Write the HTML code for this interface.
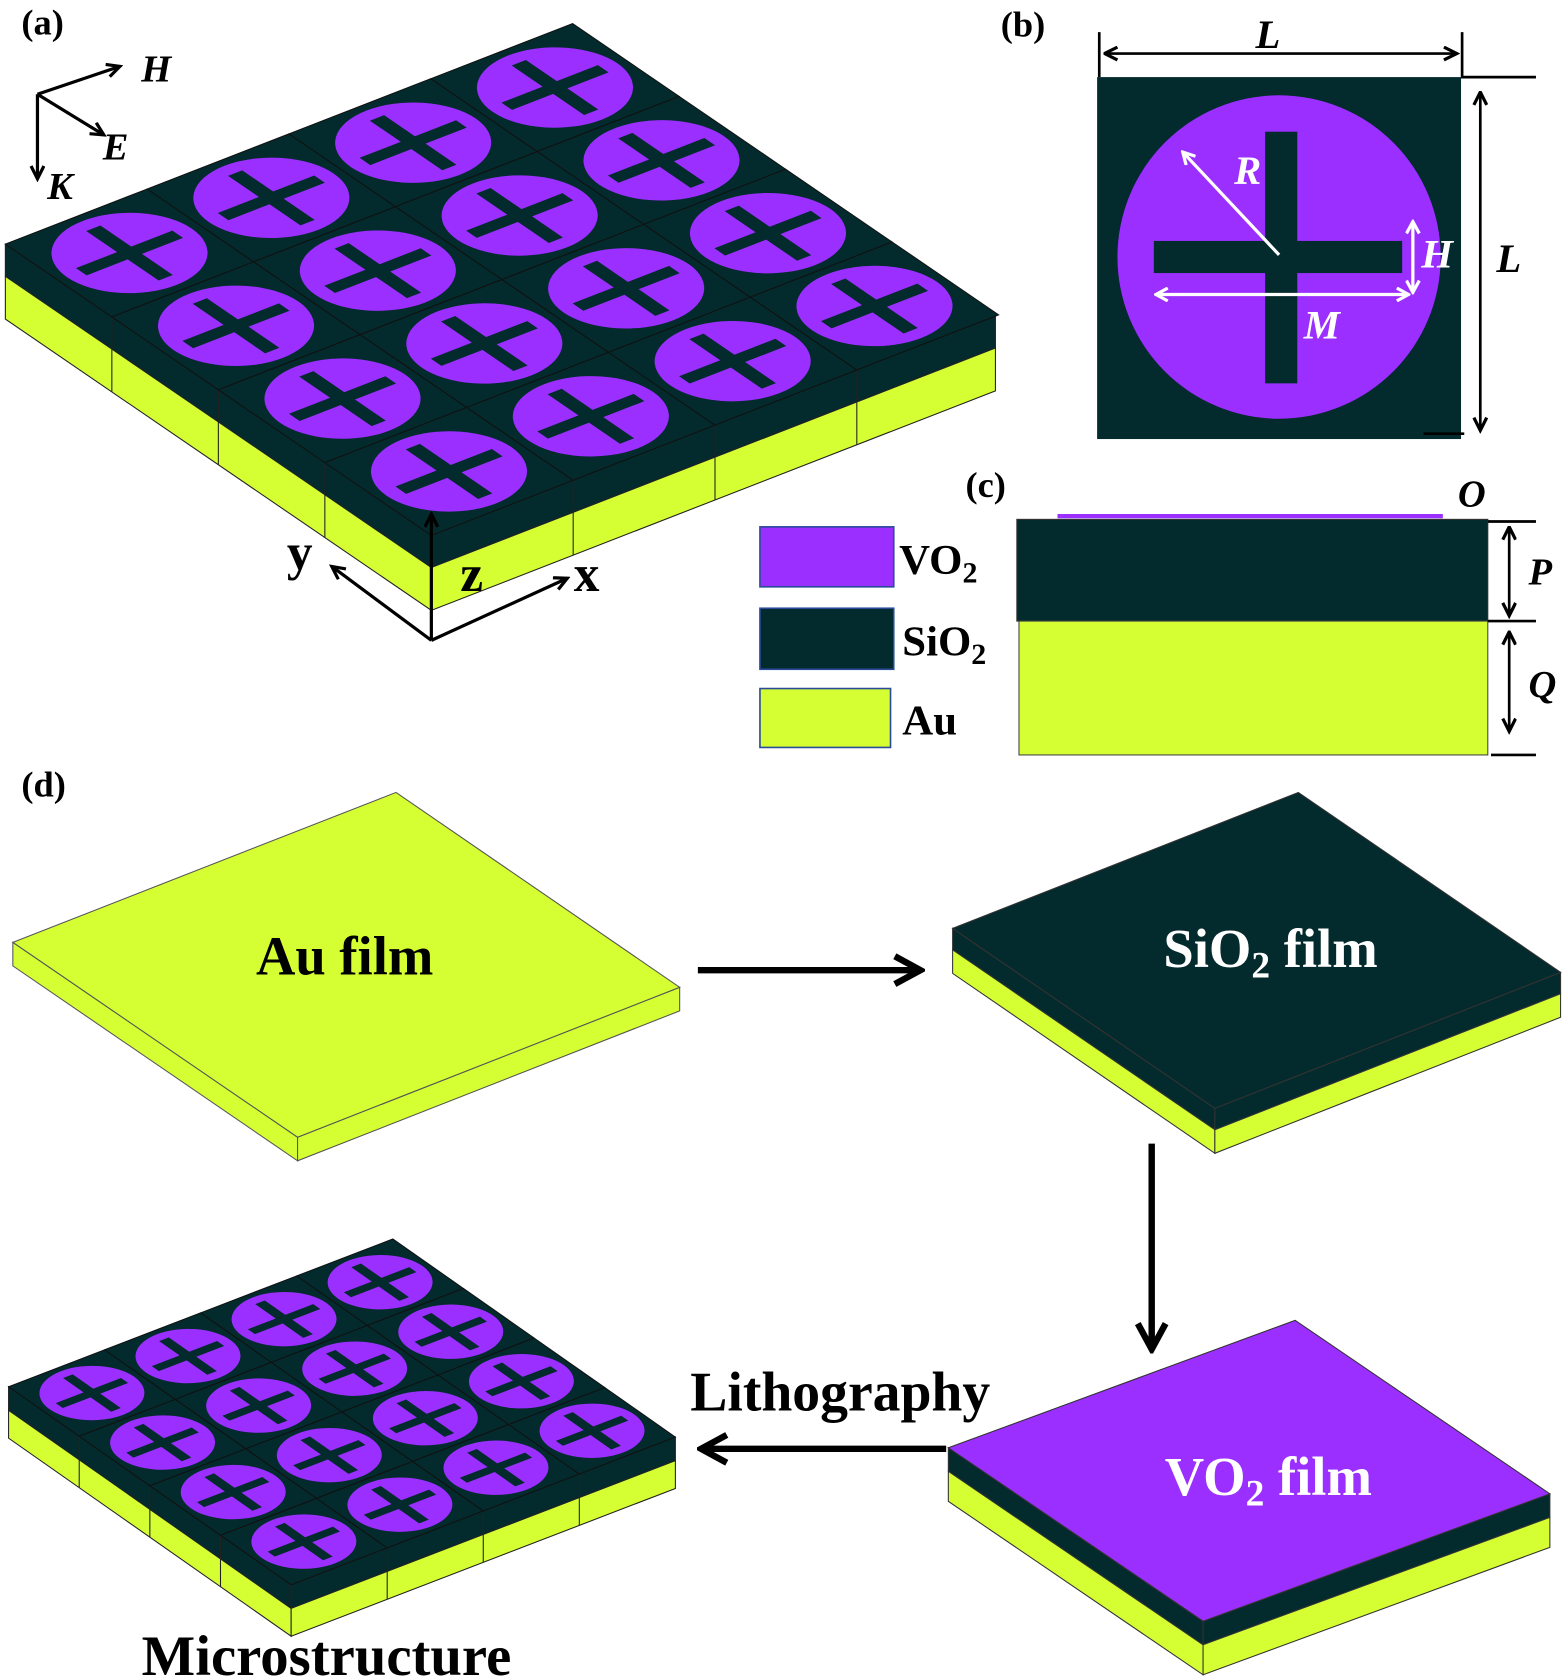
<!DOCTYPE html>
<html><head><meta charset="utf-8"><style>html,body{margin:0;padding:0;background:#fff}svg{display:block}
text{font-family:"Liberation Serif",serif;font-weight:bold}</style></head><body>
<svg width="1567" height="1678" viewBox="0 0 1464 1567" preserveAspectRatio="none" xmlns="http://www.w3.org/2000/svg">
<defs>
<g id="cell">
<rect x="0" y="0" width="1" height="1" fill="#032a2d" stroke="#111" stroke-width="1" vector-effect="non-scaling-stroke"/>
<circle cx="0.5" cy="0.5" r="0.44" fill="#9b2fff"/>
<rect x="0.16" y="0.45" width="0.68" height="0.1" fill="#032a2d"/>
<rect x="0.45" y="0.16" width="0.1" height="0.68" fill="#032a2d"/>
</g>
<g id="grid">
<use href="#cell" x="0" y="0"/><use href="#cell" x="1" y="0"/><use href="#cell" x="2" y="0"/><use href="#cell" x="3" y="0"/>
<use href="#cell" x="0" y="1"/><use href="#cell" x="1" y="1"/><use href="#cell" x="2" y="1"/><use href="#cell" x="3" y="1"/>
<use href="#cell" x="0" y="2"/><use href="#cell" x="1" y="2"/><use href="#cell" x="2" y="2"/><use href="#cell" x="3" y="2"/>
<use href="#cell" x="0" y="3"/><use href="#cell" x="1" y="3"/><use href="#cell" x="2" y="3"/><use href="#cell" x="3" y="3"/>
</g>
<marker id="ab" markerWidth="16" markerHeight="16" refX="13" refY="7" orient="auto" markerUnits="userSpaceOnUse"><path d="M1,1 L13,7 L1,13" fill="none" stroke="#000" stroke-width="3"/></marker>
<marker id="abs" markerWidth="16" markerHeight="16" refX="1" refY="7" orient="auto" markerUnits="userSpaceOnUse"><path d="M13,1 L1,7 L13,13" fill="none" stroke="#000" stroke-width="3"/></marker>
<marker id="aw" markerWidth="14" markerHeight="14" refX="12" refY="7" orient="auto" markerUnits="userSpaceOnUse"><path d="M1,1 L12,7 L1,13" fill="none" stroke="#fff" stroke-width="3"/></marker>
<marker id="aws" markerWidth="14" markerHeight="14" refX="2" refY="7" orient="auto" markerUnits="userSpaceOnUse"><path d="M13,1 L2,7 L13,13" fill="none" stroke="#fff" stroke-width="3"/></marker>
<marker id="big" markerWidth="32" markerHeight="32" refX="28" refY="16" orient="auto" markerUnits="userSpaceOnUse"><path d="M4,3 L28,16 L4,29" fill="none" stroke="#000" stroke-width="6"/></marker>
</defs>

<!-- panel a -->
<g stroke="#222" stroke-width="1">
<polygon points="5,228 403,500 403,530 5,258" fill="#032a2d"/>
<polygon points="5,258 403,530 403,570 5,298" fill="#d6ff33"/>
<polygon points="403,500 930,295 930,325 403,530" fill="#032a2d"/>
<polygon points="403,530 930,325 930,365 403,570" fill="#d6ff33"/>
<path d="M104.5,296V366 M204,364V434 M303.5,432V502 M535.5,448.5V518.5 M668,397V467 M800.5,345.5V415.5" fill="none"/>
</g>
<g transform="matrix(99.5,68,132.5,-51.5,5,228)"><use href="#grid"/></g>
<text x="20" y="32" font-size="34">(a)</text>
<g stroke="#000" stroke-width="3" fill="none">
<line x1="35" y1="88" x2="112" y2="62" marker-end="url(#ab)"/>
<line x1="35" y1="88" x2="97" y2="126" marker-end="url(#ab)"/>
<line x1="35" y1="88" x2="35" y2="167" marker-end="url(#ab)"/>
<line x1="403" y1="598" x2="403" y2="480" marker-end="url(#ab)"/>
<line x1="403" y1="598" x2="310" y2="529" marker-end="url(#ab)"/>
<line x1="403" y1="598" x2="530" y2="540" marker-end="url(#ab)"/>
</g>
<g font-style="italic" font-size="36"><text x="132" y="76">H</text><text x="96" y="149">E</text><text x="44" y="186">K</text></g>
<g font-size="48"><text x="268" y="532">y</text><text x="430" y="552">z</text><text x="536" y="552">x</text></g>

<!-- panel b -->
<text x="935" y="34" font-size="34">(b)</text>
<rect x="1025" y="72" width="340" height="338" fill="#032a2d"/>
<circle cx="1195" cy="240" r="151" fill="#9b2fff"/>
<rect x="1182" y="123" width="30" height="235" fill="#032a2d"/>
<rect x="1078" y="225" width="232" height="30" fill="#032a2d"/>
<g stroke="#000" stroke-width="2.5" fill="none">
<line x1="1027" y1="30" x2="1027" y2="72"/><line x1="1366" y1="30" x2="1366" y2="72"/>
<line x1="1032" y1="50" x2="1361" y2="50" marker-end="url(#ab)" marker-start="url(#abs)"/>
<line x1="1365" y1="72" x2="1435" y2="72"/><line x1="1330" y1="405" x2="1368" y2="405"/>
<line x1="1383" y1="86" x2="1383" y2="402" marker-end="url(#ab)" marker-start="url(#abs)"/>
</g>
<text x="1173" y="45" font-size="38" font-style="italic">L</text>
<text x="1398" y="254" font-size="38" font-style="italic">L</text>
<g stroke="#fff" stroke-width="3" fill="none">
<line x1="1195" y1="238" x2="1105" y2="142" marker-end="url(#aw)"/>
<line x1="1320" y1="207" x2="1320" y2="273" marker-end="url(#aw)" marker-start="url(#aws)"/>
<line x1="1080" y1="275" x2="1316" y2="275" marker-end="url(#aw)" marker-start="url(#aws)"/>
</g>
<g fill="#fff" font-style="italic" font-size="38"><text x="1153" y="172">R</text><text x="1328" y="250">H</text><text x="1218" y="316">M</text></g>

<!-- panel c -->
<text x="902" y="464" font-size="34">(c)</text>
<rect x="988" y="480" width="360" height="4" fill="#9b2fff"/>
<rect x="950" y="485" width="440" height="95" fill="#032a2d" stroke="#333" stroke-width="1"/>
<rect x="952" y="580" width="438" height="125" fill="#d6ff33" stroke="#444" stroke-width="1"/>
<g stroke="#000" stroke-width="2.5" fill="none">
<line x1="1390" y1="487" x2="1435" y2="487"/><line x1="1390" y1="580" x2="1435" y2="580"/><line x1="1393" y1="705" x2="1435" y2="705"/>
<line x1="1410" y1="492" x2="1410" y2="575" marker-end="url(#ab)" marker-start="url(#abs)"/>
<line x1="1410" y1="590" x2="1410" y2="683" marker-end="url(#ab)" marker-start="url(#abs)"/>
</g>
<g font-style="italic" font-size="36"><text x="1362" y="473">O</text><text x="1428" y="546">P</text><text x="1428" y="651">Q</text></g>
<rect x="710" y="492" width="125" height="56" fill="#9b2fff" stroke="#2a4a9a" stroke-width="1.5"/>
<rect x="710" y="568" width="125" height="57" fill="#032a2d" stroke="#2a4a9a" stroke-width="1.5"/>
<rect x="710" y="643" width="122" height="55" fill="#d6ff33" stroke="#2a4a9a" stroke-width="1.5"/>
<g font-size="40"><text x="840" y="536">VO<tspan font-size="28" dy="8">2</tspan></text>
<text x="843" y="612">SiO<tspan font-size="28" dy="8">2</tspan></text>
<text x="843" y="686">Au</text></g>

<!-- panel d -->
<text x="20" y="744" font-size="34">(d)</text>
<g stroke="#555" stroke-width="1">
<polygon points="12,880 278,1062 278,1084 12,902" fill="#d6ff33"/>
<polygon points="278,1062 635,922 635,944 278,1084" fill="#d6ff33"/>
<polygon points="12,880 370,740 635,922 278,1062" fill="#d6ff33"/>
</g>
<text x="322" y="910" font-size="51" text-anchor="middle">Au film</text>
<line x1="652" y1="906" x2="860" y2="906" stroke="#000" stroke-width="6" marker-end="url(#big)"/>

<g stroke="#333" stroke-width="1">
<polygon points="890,867 1135,1035 1135,1055 890,887" fill="#032a2d"/>
<polygon points="1135,1035 1458,908 1458,928 1135,1055" fill="#032a2d"/>
<polygon points="890,887 1135,1055 1135,1077 890,909" fill="#d6ff33"/>
<polygon points="1135,1055 1458,928 1458,950 1135,1077" fill="#d6ff33"/>
<polygon points="890,867 1213,740 1458,908 1135,1035" fill="#032a2d"/>
</g>
<text x="1187" y="903" font-size="51" text-anchor="middle" fill="#fff">SiO<tspan font-size="35" dy="10">2</tspan><tspan dy="-10"> film</tspan></text>
<line x1="1076" y1="1068" x2="1076" y2="1260" stroke="#000" stroke-width="6" marker-end="url(#big)"/>

<g stroke="#333" stroke-width="1">
<polygon points="886,1352 1124,1514 1124,1536 886,1374" fill="#032a2d"/>
<polygon points="1124,1514 1448,1395 1448,1417 1124,1536" fill="#032a2d"/>
<polygon points="886,1374 1124,1536 1124,1564 886,1402" fill="#d6ff33"/>
<polygon points="1124,1536 1448,1417 1448,1445 1124,1564" fill="#d6ff33"/>
<polygon points="886,1352 1210,1233 1448,1395 1124,1514" fill="#9b2fff"/>
</g>
<text x="1185" y="1396" font-size="51" text-anchor="middle" fill="#fff">VO<tspan font-size="35" dy="10">2</tspan><tspan dy="-10"> film</tspan></text>
<line x1="884" y1="1353" x2="655" y2="1353" stroke="#000" stroke-width="6" marker-end="url(#big)"/>
<text x="785" y="1317" font-size="52" text-anchor="middle">Lithography</text>

<g stroke="#222" stroke-width="1">
<polygon points="8,1295 272,1480 272,1502 8,1317" fill="#032a2d"/>
<polygon points="8,1317 272,1502 272,1528 8,1343" fill="#d6ff33"/>
<polygon points="272,1480 631,1342 631,1364 272,1502" fill="#032a2d"/>
<polygon points="272,1502 631,1364 631,1390 272,1528" fill="#d6ff33"/>
<path d="M74,1341V1389 M140,1387.5V1435.5 M206,1433.5V1481.5 M361.75,1445.5V1493.5 M451.5,1411V1459 M541.25,1376.5V1424.5" fill="none"/>
</g>
<g transform="matrix(66,46.25,89.75,-34.5,8,1295)"><use href="#grid"/></g>
<text x="305" y="1564" font-size="53" text-anchor="middle">Microstructure</text>
</svg>
</body></html>
